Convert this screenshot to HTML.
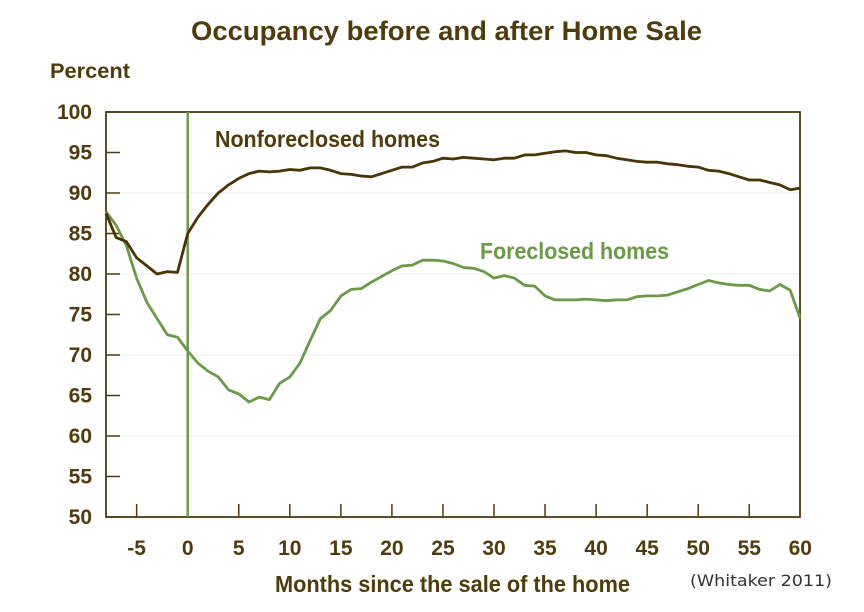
<!DOCTYPE html>
<html><head><meta charset="utf-8"><style>
body{margin:0;background:#fff;}
svg{display:block;}
text{font-family:"Liberation Sans Narrow","Liberation Sans",sans-serif;font-weight:bold;fill:#4f3b0c;}
</style></head><body>
<svg id="s" width="864" height="612" viewBox="0 0 864 612" xmlns="http://www.w3.org/2000/svg">
<text x="191" y="40" font-size="27" textLength="511" lengthAdjust="spacingAndGlyphs">Occupancy before and after Home Sale</text>
<text x="50" y="78" font-size="21" textLength="80" lengthAdjust="spacingAndGlyphs">Percent</text>
<g id="g"></g>
<text x="215" y="147" font-size="23" textLength="225" lengthAdjust="spacingAndGlyphs">Nonforeclosed homes</text>
<text x="480" y="259" font-size="23" textLength="189" lengthAdjust="spacingAndGlyphs" style="fill:#6a9a48">Foreclosed homes</text>
<text x="275" y="592" font-size="23" textLength="355" lengthAdjust="spacingAndGlyphs">Months since the sale of the home</text>
<text x="690" y="586" font-size="16" textLength="142" lengthAdjust="spacingAndGlyphs" style="font-family:'DejaVu Sans',sans-serif;font-weight:normal;fill:#333">(Whitaker 2011)</text>
</svg>
<script>
var g=document.getElementById('g'),h='';
function X(m){return 187.7+m*10.21;}
function Y(v){return 517-(v-50)*8.1;}
for(var v=60;v<=90;v+=10)h+='<line x1="106" x2="800" y1="'+Y(v)+'" y2="'+Y(v)+'" stroke="#eeebe4" stroke-width="1"/>';
for(var v=50;v<=100;v+=5){h+='<line x1="106" x2="120" y1="'+Y(v)+'" y2="'+Y(v)+'" stroke="#4f3b0c" stroke-width="1.5"/>';
h+='<text x="92" y="'+(Y(v)+7)+'" font-size="21" text-anchor="end">'+v+'</text>';}
for(var m=-5;m<=60;m+=5){if(m!=0&&m!=60)h+='<line x1="'+X(m)+'" x2="'+X(m)+'" y1="504" y2="517" stroke="#4f3b0c" stroke-width="1.5"/>';
h+='<text x="'+X(m)+'" y="555" font-size="21" text-anchor="middle">'+m+'</text>';}
h+='<rect x="106" y="112" width="694" height="405" fill="none" stroke="#4f3b0c" stroke-width="1.8"/>';
h+='<line x1="187.7" x2="187.7" y1="112" y2="517" stroke="#6a9a48" stroke-width="2.5"/>';
var n=[87.5,84.5,84,82,81,80,80.3,80.2,85,87,88.6,90,91,91.8,92.4,92.7,92.6,92.7,92.9,92.8,93.1,93.1,92.8,92.4,92.3,92.1,92,92.4,92.8,93.2,93.2,93.7,93.9,94.3,94.2,94.4,94.3,94.2,94.1,94.3,94.3,94.7,94.7,94.9,95.1,95.2,95,95,94.7,94.6,94.3,94.1,93.9,93.8,93.8,93.6,93.5,93.3,93.2,92.8,92.7,92.4,92,91.6,91.6,91.3,91,90.4,90.6];
var f=[87.7,86,83.5,79.5,76.5,74.5,72.5,72.2,70.5,69,68,67.3,65.7,65.2,64.2,64.8,64.5,66.5,67.3,69,71.8,74.5,75.5,77.3,78.1,78.2,79,79.7,80.4,81,81.1,81.7,81.7,81.6,81.3,80.8,80.7,80.3,79.5,79.8,79.5,78.6,78.5,77.3,76.8,76.8,76.8,76.9,76.8,76.7,76.8,76.8,77.2,77.3,77.3,77.4,77.8,78.2,78.7,79.2,78.9,78.7,78.6,78.6,78.1,77.9,78.7,78,74.5];
function P(a){return a.map(function(v,i){return X(i-8).toFixed(1)+','+Y(v).toFixed(1)}).join(' ');}
h+='<polyline points="'+P(f)+'" fill="none" stroke="#6a9a48" stroke-width="2.8" stroke-linejoin="round"/>';
h+='<polyline points="'+P(n)+'" fill="none" stroke="#4a3405" stroke-width="2.8" stroke-linejoin="round"/>';
g.innerHTML=h;
</script>
</body></html>
